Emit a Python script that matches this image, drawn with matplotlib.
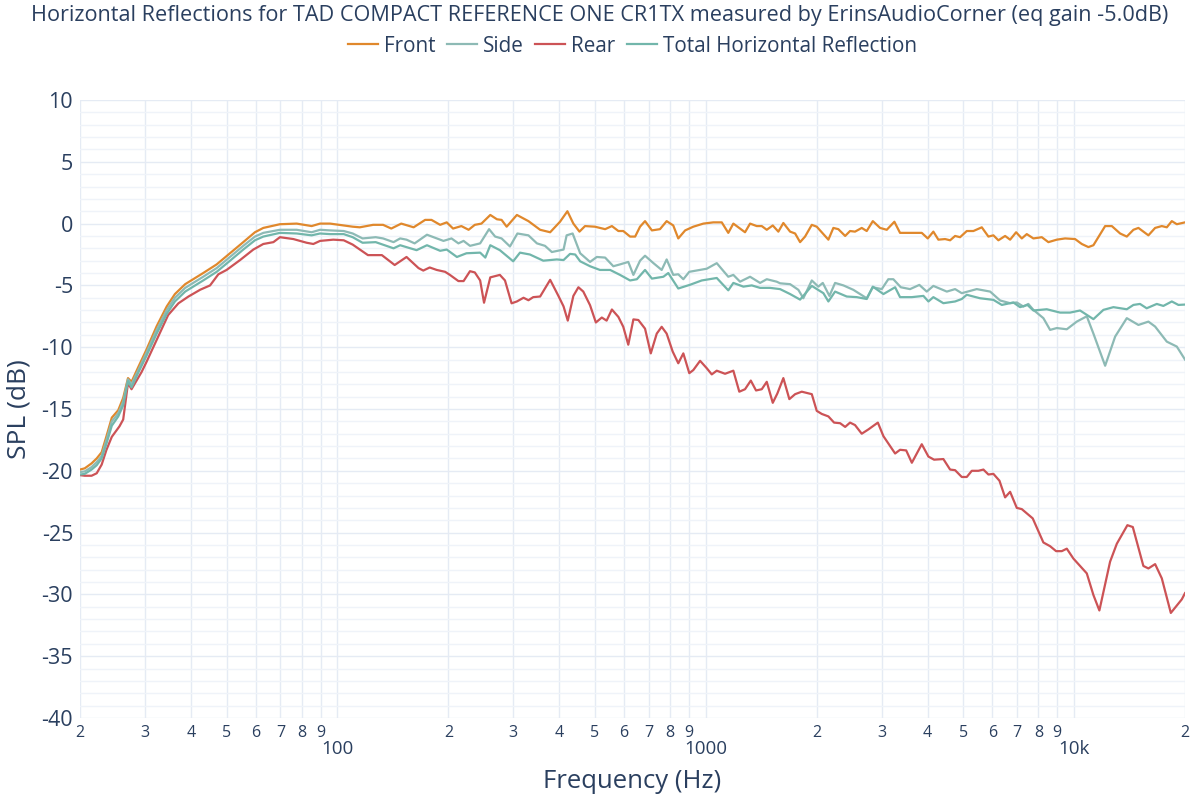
import matplotlib.pyplot as plt
from matplotlib.lines import Line2D

# ── colours / fonts ──────────────────────────────────────
TEXT_COLOR  = "#2a3f5f"
GRID_MAJOR  = "#e5ebf4"
GRID_MINOR  = "#eff3f9"
FRONT_COLOR = "#e0882c"
SIDE_COLOR  = "#8dbab5"
REAR_COLOR  = "#cc5356"
TOTAL_COLOR = "#72b6ab"

plt.rcParams["font.family"] = ["Open Sans", "DejaVu Sans"]
plt.rcParams["axes.unicode_minus"] = False

# ── data ─────────────────────────────────────────────────
front_hz = [20.0, 20.6, 21.5, 22.2, 22.9, 23.6, 24.4, 25.4, 26.2, 27.0, 27.6, 28.8, 30.3, 32.3, 34.4,
            36.2, 38.6, 43.2, 47.0, 51.1, 55.5, 59.7, 62.9, 69.8, 77.5, 85.1, 89.7, 95.5, 110, 115,
            125, 133, 140, 149, 161, 173, 180, 190, 198, 206, 217, 227, 236, 246, 260, 271, 279,
            288, 307, 330, 355, 378, 402, 421, 437, 454, 470, 500, 533, 556, 579, 597, 623, 643,
            663, 684, 714, 751, 783, 816, 842, 879, 925, 985, 1048, 1105, 1151, 1188, 1278, 1319,
            1375, 1419, 1464, 1520, 1574, 1624, 1694, 1748, 1803, 1860, 1940, 2001, 2152, 2220,
            2290, 2390, 2464, 2542, 2651, 2735, 2841, 2973, 3100, 3251, 3368, 3660, 3858, 4005,
            4148, 4280, 4463, 4606, 4752, 4902, 5112, 5328, 5615, 5852, 6038, 6229, 6496, 6702,
            6958, 7210, 7438, 7752, 8170, 8514, 8972, 9450, 10060, 10492, 10934, 11282, 12140,
            12658, 13332, 13900, 14488, 14948, 15910, 16592, 17300, 17850, 18418, 19002, 20000]
front_db = [-19.9, -19.8, -19.4, -19.0, -18.5, -17.2, -15.7, -15.1, -14.1, -12.5, -12.8, -11.6, -10.2,
            -8.3, -6.7, -5.7, -4.9, -4.0, -3.3, -2.4, -1.5, -0.7, -0.35, -0.05, 0.0, -0.2, 0.0, 0.0,
            -0.25, -0.3, -0.1, -0.1, -0.4, 0.0, -0.3, 0.3, 0.3, -0.1, 0.1, -0.4, -0.2, -0.5, -0.1,
            0.0, 0.7, 0.35, 0.3, -0.25, 0.7, 0.2, -0.5, -0.7, 0.15, 1.0, 0.0, -0.65, -0.2, -0.25,
            -0.45, -0.2, -0.6, -0.6, -1.05, -1.05, -0.25, 0.2, -0.55, -0.45, 0.2, -0.15, -1.2, -0.55,
            -0.25, 0.0, 0.1, 0.1, -0.75, 0.0, -0.7, 0.0, -0.2, -0.2, -0.5, -0.15, -0.65, 0.05, -0.65,
            -0.8, -1.5, -1.05, -0.1, -0.25, -1.3, -0.35, -0.45, -1.0, -0.6, -0.65, -0.35, -0.6, 0.2,
            -0.35, -0.5, 0.15, -0.75, -0.75, -0.75, -1.2, -0.65, -1.3, -1.25, -1.35, -1.0, -1.1,
            -0.6, -0.6, -0.3, -1.05, -0.95, -1.35, -1.0, -1.3, -0.7, -1.2, -0.85, -1.2, -1.1, -1.5,
            -1.3, -1.2, -1.25, -1.65, -1.9, -1.75, -0.2, -0.2, -0.8, -1.05, -0.5, -0.35, -0.95,
            -0.35, -0.2, -0.3, 0.2, -0.05, 0.1]

side_hz = [20.0, 20.6, 21.5, 22.2, 22.9, 23.6, 24.4, 25.4, 26.2, 27.0, 27.6, 28.8, 30.3, 32.3, 34.4,
           36.2, 38.6, 43.2, 47.0, 51.1, 55.5, 59.7, 62.9, 69.8, 77.5, 85.1, 89.7, 95.5, 104, 110,
           117, 127, 133, 142, 148, 154, 162, 175, 186, 194, 204, 213, 220, 229, 244, 258, 268,
           279, 294, 308, 330, 348, 366, 382, 411, 419, 435, 456, 485, 506, 533, 561, 585, 616,
           636, 663, 684, 721, 759, 783, 816, 842, 869, 902, 965, 1006, 1071, 1151, 1188, 1239,
           1319, 1404, 1464, 1558, 1591, 1694, 1784, 1840, 1940, 2021, 2078, 2166, 2244, 2364,
           2516, 2735, 2841, 3004, 3130, 3230, 3384, 3586, 3800, 3980, 4148, 4512, 4752, 4954,
           5440, 5916, 6296, 6702, 6988, 7282, 7512, 7752, 8252, 8606, 8972, 9552, 10166, 10824,
           11282, 12140, 12924, 13900, 14948, 15910, 16592, 17850, 19002, 20000]
side_db = [-20.1, -20.05, -19.7, -19.3, -18.8, -17.5, -16.0, -15.35, -14.4, -12.6, -13.0, -11.85,
           -10.45, -8.6, -7.0, -6.0, -5.2, -4.3, -3.6, -2.7, -1.8, -1.05, -0.75, -0.5, -0.5,
           -0.7, -0.5, -0.55, -0.6, -0.8, -1.2, -1.1, -1.2, -1.5, -1.2, -1.3, -1.6, -0.9, -1.2, -1.4,
           -1.2, -1.6, -1.4, -1.8, -1.6, -0.45, -1.05, -1.2, -1.85, -0.8, -0.95, -1.6, -1.8, -2.3,
           -2.1, -0.95, -0.8, -2.4, -3.1, -2.7, -2.75, -3.45, -3.3, -3.1, -4.15, -3.0, -2.6, -3.2,
           -3.75, -2.9, -4.15, -4.1, -4.5, -3.9, -3.75, -3.65, -3.2, -4.3, -4.15, -4.7, -4.3, -4.8,
           -4.5, -4.7, -4.83, -4.9, -5.36, -6.04, -4.6, -5.1, -4.8, -5.85, -4.8, -5.0, -5.36, -6.04,
           -5.15, -5.3, -4.5, -4.5, -5.15, -5.3, -4.96, -5.5, -5.04, -5.5, -5.3, -5.63, -5.3, -5.5,
           -6.22, -6.44, -6.38, -6.71, -6.5, -6.98, -7.65, -8.6, -8.45, -8.55, -7.93, -7.5, -8.9,
           -11.5, -9.14, -7.65, -8.2, -7.93, -8.33, -9.55, -9.95, -11.0]

rear_hz = [20.0, 20.6, 21.5, 22.2, 22.9, 23.6, 24.4, 25.6, 26.2, 27.0, 27.6, 29.4, 30.3, 32.3, 34.7,
           37.0, 39.4, 42.4, 45.1, 47.5, 50.0, 54.4, 59.1, 62.9, 67.0, 69.8, 75.9, 82.5, 86.0, 89.7,
           97.4, 104, 110, 121, 132, 143, 154, 166, 171, 178, 186, 196, 202, 213, 220, 229, 236,
           244, 250, 260, 276, 285, 297, 307, 320, 330, 340, 355, 378, 398, 411, 422, 437, 451,
           465, 485, 503, 522, 538, 556, 579, 597, 616, 636, 656, 684, 709, 736, 759, 783, 813,
           842, 869, 902, 925, 965, 1006, 1038, 1071, 1128, 1188, 1233, 1278, 1325, 1369, 1419,
           1464, 1520, 1564, 1624, 1686, 1748, 1822, 1940, 2001, 2065, 2152, 2230, 2316, 2390,
           2464, 2542, 2651, 2764, 2932, 3036, 3266, 3368, 3500, 3626, 3858, 4022, 4166, 4416,
           4606, 4752, 4954, 5112, 5274, 5496, 5672, 5852, 6038, 6270, 6496, 6702, 6988, 7210,
           7720, 8252, 8606, 8934, 9258, 9552, 9954, 10824, 11282, 11710, 12522, 13060, 13952,
           14432, 15418, 15910, 16592, 17300, 18304, 19002, 19604, 20000]
rear_db = [-20.35, -20.4, -20.4, -20.2, -19.5, -18.3, -17.25, -16.4, -15.85, -12.9, -13.4, -12.0,
           -11.2, -9.4, -7.4, -6.45, -5.9, -5.35, -5.0, -4.1, -3.75, -2.95, -2.1, -1.65, -1.5, -1.1,
           -1.25, -1.55, -1.65, -1.4, -1.3, -1.35, -1.7, -2.55, -2.55, -3.35, -2.7, -3.6, -3.8,
           -3.55, -3.75, -3.9, -4.15, -4.65, -4.65, -3.85, -3.95, -4.6, -6.4, -4.35, -4.15, -4.6,
           -6.45, -6.3, -6.0, -6.2, -5.95, -5.9, -4.55, -5.85, -6.7, -7.85, -5.85, -5.15, -5.5,
           -6.6, -8.0, -7.6, -7.85, -6.95, -7.55, -8.35, -9.8, -7.75, -7.8, -8.5, -10.5, -8.9,
           -8.35, -8.9, -10.35, -11.3, -10.5, -12.1, -11.85, -11.1, -11.7, -12.2, -11.9, -12.15,
           -11.9, -13.6, -13.4, -12.7, -13.5, -13.4, -12.8, -14.5, -13.75, -12.5, -14.2, -13.8,
           -13.6, -13.8, -15.15, -15.4, -15.6, -16.1, -16.15, -16.45, -16.1, -16.3, -17.0, -16.65,
           -16.1, -17.2, -18.6, -18.3, -18.35, -19.35, -17.85, -18.85, -19.1, -19.05, -19.9,
           -19.95, -20.5, -20.5, -20.0, -20.0, -19.9, -20.3, -20.25, -20.8, -22.15, -21.7, -23.0,
           -23.1, -23.85, -25.8, -26.1, -26.5, -26.5, -26.3, -27.1, -28.3, -30.05, -31.3, -27.35,
           -25.9, -24.4, -24.55, -27.7, -27.9, -27.55, -28.7, -31.5, -30.9, -30.4, -29.9]

total_hz = [20.0, 20.6, 21.5, 22.2, 22.9, 23.6, 24.4, 25.4, 26.2, 27.0, 27.6, 28.8, 30.3, 32.3, 34.4,
            36.2, 38.6, 43.2, 47.0, 51.1, 55.5, 59.7, 62.9, 69.8, 77.5, 85.1, 89.7, 95.5, 104, 110,
            117, 127, 142, 148, 164, 175, 190, 198, 211, 224, 244, 252, 260, 276, 300, 313, 333,
            362, 394, 411, 428, 442, 456, 485, 516, 550, 585, 623, 650, 684, 714, 767, 791, 842,
            906, 975, 1071, 1151, 1188, 1265, 1333, 1404, 1494, 1591, 1694, 1803, 1940, 2086, 2152,
            2244, 2414, 2570, 2735, 2841, 3036, 3266, 3368, 3626, 3898, 4022, 4148, 4416, 4752,
            4954, 5112, 5554, 6038, 6364, 6840, 7132, 7468, 7752, 8428, 9160, 9750, 10378, 11282,
            12010, 12784, 13900, 14488, 15096, 15740, 16764, 17470, 18418, 19192, 20000]
total_db = [-20.3, -20.25, -19.9, -19.55, -19.0, -17.8, -16.35, -15.6, -14.7, -12.75, -13.25, -12.05,
            -10.7, -8.9, -7.3, -6.3, -5.5, -4.6, -3.9, -3.0, -2.1, -1.35, -1.05, -0.75, -0.8,
            -0.95, -0.8, -0.85, -0.85, -1.1, -1.55, -1.5, -2.0, -1.75, -2.15, -1.75, -2.2, -2.1,
            -2.7, -2.4, -2.35, -2.75, -1.75, -2.15, -3.05, -2.35, -2.5, -3.0, -2.9, -2.95, -2.45,
            -2.5, -3.05, -3.45, -3.75, -3.75, -4.15, -4.6, -4.5, -3.75, -4.45, -4.3, -4.0, -5.25,
            -4.95, -4.6, -4.4, -5.4, -4.8, -5.1, -5.0, -5.2, -5.2, -5.3, -5.7, -6.15, -5.04, -5.63,
            -6.3, -5.5, -5.9, -5.95, -6.1, -5.1, -5.7, -5.15, -5.95, -5.95, -5.85, -6.3, -5.95,
            -6.44, -6.3, -6.1, -5.76, -6.04, -6.17, -6.58, -6.38, -6.76, -6.58, -7.03, -6.93, -7.2,
            -7.2, -7.03, -7.73, -6.98, -6.76, -6.93, -6.58, -6.5, -6.85, -6.5, -6.66, -6.3, -6.58,
            -6.55]

series_names = ["Front", "Side", "Rear", "Total Horizontal Reflection"]

x_major = [100, 1000, 10000]
x_major_labels = ["100", "1000", "10k"]
x_minor = [20, 30, 40, 50, 60, 70, 80, 90,
           200, 300, 400, 500, 600, 700, 800, 900,
           2000, 3000, 4000, 5000, 6000, 7000, 8000, 9000, 20000]
x_minor_labels = ["2", "3", "4", "5", "6", "7", "8", "9",
                  "2", "3", "4", "5", "6", "7", "8", "9",
                  "2", "3", "4", "5", "6", "7", "8", "9", "2"]
y_major = [-40, -35, -30, -25, -20, -15, -10, -5, 0, 5, 10]
y_minor = list(range(-40, 11))

TITLE = ("Horizontal Reflections for TAD COMPACT REFERENCE ONE CR1TX "
         "measured by ErinsAudioCorner (eq gain -5.0dB)")

# ── figure ───────────────────────────────────────────────
fig = plt.figure(figsize=(12, 8), dpi=100)
ax = fig.add_axes([80 / 1200, 1 - 718 / 800, 1105 / 1200, 618 / 800])

ax.plot(front_hz, front_db, color=FRONT_COLOR, lw=1.6, label=series_names[0])
ax.plot(side_hz, side_db, color=SIDE_COLOR, lw=1.6, label=series_names[1])
ax.plot(rear_hz, rear_db, color=REAR_COLOR, lw=1.6, label=series_names[2])
ax.plot(total_hz, total_db, color=TOTAL_COLOR, lw=1.6, label=series_names[3])

ax.set_xscale("log")
ax.set_xlim(20, 20000)
ax.set_ylim(-40, 10)

ax.set_xticks(x_major)
ax.set_xticklabels(x_major_labels)
ax.set_xticks(x_minor, minor=True)
ax.set_xticklabels(x_minor_labels, minor=True)
ax.set_yticks(y_major)
ax.set_yticks(y_minor, minor=True)

ax.tick_params(axis="both", which="both", length=0, colors=TEXT_COLOR)
ax.tick_params(axis="x", which="major", labelsize=13.5, pad=16)
ax.tick_params(axis="x", which="minor", labelsize=11.5, pad=5)
ax.tick_params(axis="y", which="major", labelsize=15.5, pad=5)

ax.grid(True, which="major", axis="both", color=GRID_MAJOR, lw=1)
ax.grid(True, which="minor", axis="x", color=GRID_MAJOR, lw=1)
ax.grid(True, which="minor", axis="y", color=GRID_MINOR, lw=1)
ax.set_axisbelow(True)
for s in ax.spines.values():
    s.set_visible(False)

ax.set_xlabel("Frequency (Hz)", fontsize=18.5, color=TEXT_COLOR)
ax.set_ylabel("SPL (dB)", fontsize=19, color=TEXT_COLOR)
ax.xaxis.set_label_coords(0.5, -(769 - 718) / 618)
ax.yaxis.set_label_coords(-(80 - 32) / 1105, 0.5)

fig.text(0.5, 1 - 16 / 800, TITLE, ha="center", va="center", fontsize=15.6, color=TEXT_COLOR)

handles = [Line2D([], [], color=c, lw=1.6)
           for c in (FRONT_COLOR, SIDE_COLOR, REAR_COLOR, TOTAL_COLOR)]
fig.legend(handles, series_names, loc="center", bbox_to_anchor=(0.527, 1 - 46 / 800), ncol=4,
           frameon=False, fontsize=14.9, handlelength=1.45, handletextpad=0.3,
           columnspacing=0.55, labelcolor=TEXT_COLOR)

fig.savefig("out.png", dpi=100)
